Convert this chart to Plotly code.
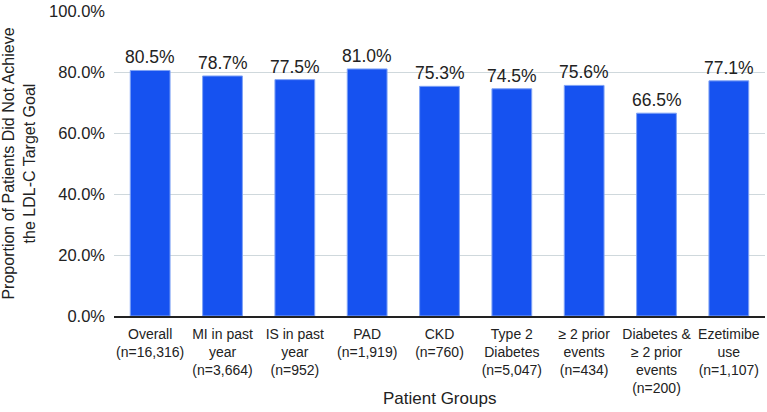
import plotly.graph_objects as go

categories = [
    "Overall<br>(n=16,316)",
    "MI in past<br>year<br>(n=3,664)",
    "IS in past<br>year<br>(n=952)",
    "PAD<br>(n=1,919)",
    "CKD<br>(n=760)",
    "Type 2<br>Diabetes<br>(n=5,047)",
    "≥ 2 prior<br>events<br>(n=434)",
    "Diabetes &<br>≥ 2 prior<br>events<br>(n=200)",
    "Ezetimibe<br>use<br>(n=1,107)",
]
values = [80.5, 78.7, 77.5, 81.0, 75.3, 74.5, 75.6, 66.5, 77.1]
labels = [f"{v:.1f}%" for v in values]
y_ticks = [0, 20, 40, 60, 80, 100]
y_tick_labels = ["0.0%", "20.0%", "40.0%", "60.0%", "80.0%", "100.0%"]
x_title = "Patient Groups"
y_title = "Proportion of Patients Did Not Achieve<br>the LDL-C Target Goal"

font_family = "Liberation Sans, Arial, sans-serif"
text_color = "#222222"

fig = go.Figure(
    go.Bar(
        x=categories,
        y=values,
        marker=dict(color="#1652F0", line=dict(color="#7FA2F5", width=1)),
        hoverinfo="x+y",
    )
)

annotations = [
    dict(
        x=c,
        y=v,
        xref="x",
        yref="y",
        text=t,
        showarrow=False,
        xanchor="center",
        yanchor="bottom",
        yshift=1,
        font=dict(size=17.5, color=text_color, family=font_family),
    )
    for c, v, t in zip(categories, values, labels)
]
annotations.append(
    dict(
        text=x_title,
        xref="paper",
        yref="paper",
        x=0.5,
        y=-0.27,
        xanchor="center",
        yanchor="middle",
        showarrow=False,
        font=dict(size=17, color=text_color, family=font_family),
    )
)

fig.update_layout(
    width=767,
    height=412,
    margin=dict(l=114, r=2, t=11, b=96),
    paper_bgcolor="white",
    plot_bgcolor="white",
    bargap=0.45,
    showlegend=False,
    font=dict(family=font_family, color=text_color),
    annotations=annotations,
)

fig.update_xaxes(
    automargin=False,
    tickfont=dict(size=14),
    showline=True,
    linecolor="#222222",
    linewidth=2,
    ticks="",
    ticklabelstandoff=4,
)
fig.update_yaxes(
    automargin=False,
    range=[0, 100],
    tickvals=y_ticks,
    ticktext=y_tick_labels,
    tickfont=dict(size=16.5),
    showgrid=True,
    gridcolor="#CFD8DC",
    gridwidth=1,
    zeroline=False,
    ticks="",
    ticklabelstandoff=8,
    title=dict(text=y_title, font=dict(size=16), standoff=9),
)

fig.write_html(
    "out.html",
    config={"displayModeBar": False},
    post_script="document.body.style.margin='0';document.body.style.overflow='hidden';",
)
